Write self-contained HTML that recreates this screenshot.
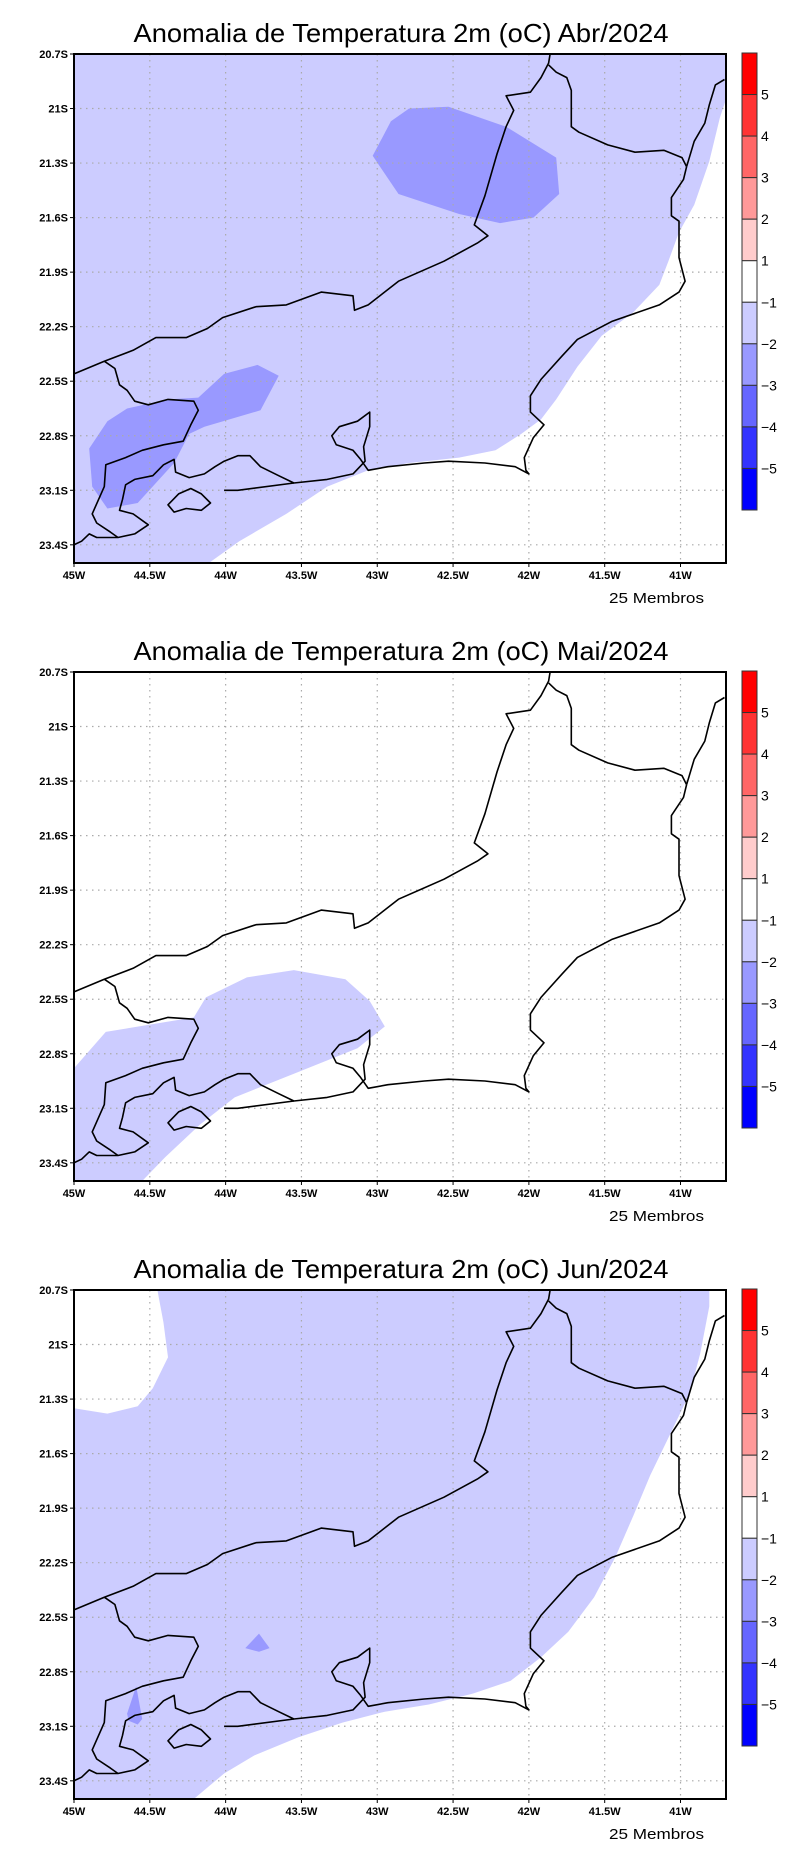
<!DOCTYPE html>
<html><head><meta charset="utf-8"><title>Anomalia de Temperatura 2m</title>
<style>
html,body{margin:0;padding:0;background:#fff;}
svg{display:block;font-family:"Liberation Sans","DejaVu Sans",sans-serif;}
</style></head>
<body>
<svg id="chart" xmlns="http://www.w3.org/2000/svg" width="800" height="1854" viewBox="0 0 800 1854"></svg>
<script>
// ---- data ----
const panelTitles = ["Anomalia de Temperatura 2m (oC) Abr/2024","Anomalia de Temperatura 2m (oC) Mai/2024","Anomalia de Temperatura 2m (oC) Jun/2024"];
const lonTicks = [-45,-44.5,-44,-43.5,-43,-42.5,-42,-41.5,-41];
const lonTickLabels = ["45W","44.5W","44W","43.5W","43W","42.5W","42W","41.5W","41W"];
const latTicks = [-20.7,-21,-21.3,-21.6,-21.9,-22.2,-22.5,-22.8,-23.1,-23.4];
const latTickLabels = ["20.7S","21S","21.3S","21.6S","21.9S","22.2S","22.5S","22.8S","23.1S","23.4S"];
const lonRange = [-45,-40.7];
const latRange = [-20.7,-23.5];
const cbarColors = ["#ff0000","#ff3333","#ff6666","#ff9999","#ffcccc","#ffffff","#ccccff","#9999ff","#6666ff","#3333ff","#0000ff"];
const cbarLabels = ["5","4","3","2","1","\u22121","\u22122","\u22123","\u22124","\u22125"];
const membersLabel = "25 Membros";

// Abr/2024 : white (> -1) area, and -2..-3 blobs (background -1..-2)
const abrBackground = "#ccccff";
const abrWhite = [[-44.11,-23.5],[-43.91,-23.38],[-43.60,-23.23],[-43.33,-23.08],[-43.06,-22.99],[-42.79,-22.95],[-42.46,-22.92],[-42.22,-22.88],[-42.05,-22.79],[-41.92,-22.71],[-41.82,-22.60],[-41.68,-22.42],[-41.52,-22.25],[-41.31,-22.12],[-41.14,-21.97],[-41.08,-21.84],[-41.01,-21.68],[-40.91,-21.53],[-40.81,-21.29],[-40.74,-21.05],[-40.70,-20.95],[-40.70,-23.5]];
const abrBlobNE = [[-42.79,-21.00],[-42.53,-20.99],[-42.15,-21.10],[-41.82,-21.27],[-41.80,-21.47],[-41.97,-21.60],[-42.19,-21.63],[-42.46,-21.58],[-42.86,-21.47],[-43.03,-21.26],[-42.91,-21.07]];
const abrBlobSW = [[-44.90,-22.87],[-44.78,-22.72],[-44.65,-22.65],[-44.38,-22.60],[-44.18,-22.59],[-44.01,-22.46],[-43.79,-22.41],[-43.65,-22.47],[-43.77,-22.66],[-44.14,-22.75],[-44.24,-22.79],[-44.34,-22.95],[-44.58,-23.17],[-44.78,-23.20],[-44.88,-23.08]];
// Mai/2024 : -1..-2 area (background white)
const maiBlue = [[-45.00,-22.88],[-44.79,-22.68],[-44.21,-22.60],[-44.13,-22.49],[-43.86,-22.38],[-43.55,-22.34],[-43.21,-22.39],[-43.05,-22.51],[-42.95,-22.65],[-43.13,-22.77],[-43.55,-22.91],[-43.94,-23.04],[-44.17,-23.19],[-44.40,-23.37],[-44.55,-23.5],[-45.00,-23.5]];
// Jun/2024 : white areas and small -2..-3 patches (background -1..-2)
const junWhiteNW = [[-45.00,-20.70],[-44.45,-20.70],[-44.41,-20.88],[-44.38,-21.07],[-44.48,-21.24],[-44.58,-21.34],[-44.78,-21.38],[-45.00,-21.35]];
const junWhiteSE = [[-40.81,-20.70],[-40.81,-20.79],[-40.87,-21.05],[-40.94,-21.27],[-41.09,-21.53],[-41.20,-21.72],[-41.31,-21.94],[-41.43,-22.17],[-41.57,-22.39],[-41.74,-22.58],[-41.92,-22.72],[-42.12,-22.85],[-42.37,-22.92],[-42.66,-22.98],[-42.95,-23.02],[-43.23,-23.08],[-43.52,-23.16],[-43.81,-23.26],[-44.01,-23.36],[-44.21,-23.5],[-40.70,-23.5],[-40.70,-20.70]];
const junPatchA = [[-43.87,-22.67],[-43.78,-22.59],[-43.71,-22.67],[-43.78,-22.69]];
const junPatchB = [[-44.59,-22.88],[-44.55,-23.06],[-44.58,-23.09],[-44.64,-23.07],[-44.65,-23.03]];

// Map outlines (lon, lat)
const borderMG = [[-45.00,-22.46],[-44.80,-22.39],[-44.61,-22.33],[-44.46,-22.26],[-44.26,-22.26],[-44.12,-22.21],[-44.02,-22.15],[-43.80,-22.09],[-43.60,-22.08],[-43.37,-22.01],[-43.16,-22.03],[-43.15,-22.11],[-43.06,-22.08],[-42.86,-21.95],[-42.56,-21.84],[-42.34,-21.74],[-42.27,-21.70],[-42.36,-21.64],[-42.29,-21.48],[-42.21,-21.25],[-42.15,-21.10],[-42.10,-21.01],[-42.15,-20.93],[-41.99,-20.91],[-41.92,-20.83],[-41.87,-20.75],[-41.86,-20.70]];
const borderES = [[-41.87,-20.76],[-41.82,-20.80],[-41.75,-20.83],[-41.72,-20.90],[-41.72,-21.10],[-41.67,-21.13],[-41.48,-21.20],[-41.30,-21.24],[-41.11,-21.23],[-40.99,-21.27],[-40.96,-21.32]];
const coastRJ = [[-40.96,-21.32],[-40.98,-21.39],[-41.06,-21.49],[-41.06,-21.59],[-41.01,-21.62],[-41.01,-21.82],[-40.97,-21.95],[-41.01,-22.01],[-41.14,-22.08],[-41.45,-22.17],[-41.68,-22.27],[-41.78,-22.36],[-41.92,-22.49],[-41.99,-22.58],[-41.99,-22.67],[-41.90,-22.74],[-41.97,-22.81],[-42.03,-22.92],[-42.02,-22.99],[-42.00,-23.01],[-42.09,-22.97],[-42.29,-22.95],[-42.53,-22.94],[-42.69,-22.95],[-42.93,-22.97],[-43.06,-22.99],[-43.11,-22.93],[-43.16,-22.88],[-43.27,-22.85],[-43.30,-22.80],[-43.25,-22.75],[-43.13,-22.72],[-43.05,-22.67],[-43.05,-22.75],[-43.09,-22.86],[-43.08,-22.94],[-43.16,-23.01],[-43.33,-23.04],[-43.55,-23.06],[-43.65,-23.02],[-43.77,-22.97],[-43.84,-22.91],[-43.92,-22.91],[-44.01,-22.94],[-44.07,-22.97],[-44.14,-23.01],[-44.24,-23.03],[-44.33,-23.00],[-44.34,-22.93],[-44.41,-22.96],[-44.48,-23.02],[-44.60,-23.04],[-44.66,-23.07],[-44.68,-23.15],[-44.70,-23.21],[-44.61,-23.23],[-44.51,-23.29],[-44.60,-23.34],[-44.71,-23.36],[-44.85,-23.36],[-44.90,-23.34],[-44.95,-23.38],[-45.00,-23.40]];
const borderSP = [[-44.80,-22.39],[-44.73,-22.43],[-44.70,-22.52],[-44.65,-22.55],[-44.60,-22.61],[-44.51,-22.63],[-44.38,-22.60],[-44.21,-22.61],[-44.18,-22.66],[-44.23,-22.74],[-44.28,-22.83],[-44.41,-22.85],[-44.55,-22.88],[-44.66,-22.92],[-44.79,-22.96],[-44.80,-23.08],[-44.88,-23.23],[-44.85,-23.28],[-44.76,-23.33],[-44.71,-23.36]];
const coastES = [[-40.96,-21.32],[-40.91,-21.18],[-40.84,-21.08],[-40.81,-20.98],[-40.77,-20.87],[-40.71,-20.84]];
const ilhaGrande = [[-44.38,-23.18],[-44.31,-23.12],[-44.23,-23.09],[-44.16,-23.12],[-44.10,-23.17],[-44.16,-23.21],[-44.26,-23.20],[-44.34,-23.22]];
const marambaia = [[-44.01,-23.10],[-43.92,-23.10],[-43.55,-23.06]];

// ---- layout ----
const NS="http://www.w3.org/2000/svg";
const svg=document.getElementById('chart');
const PX0=74, PX1=726, PY0=54, PY1=563, PANEL_DY=618;
function el(tag,attrs,parent){const e=document.createElementNS(NS,tag);for(const k in attrs)e.setAttribute(k,attrs[k]);(parent||svg).appendChild(e);return e;}
function xScale(lon){return PX0+(lon-lonRange[0])/(lonRange[1]-lonRange[0])*(PX1-PX0);}
function yScale(lat,off){return off+PY0+(lat-latRange[0])/(latRange[1]-latRange[0])*(PY1-PY0);}
function pts(arr,off){return arr.map(p=>xScale(p[0]).toFixed(1)+","+yScale(p[1],off).toFixed(1)).join(" ");}

const panels=[
 {bg:abrBackground, fills:[[abrWhite,"#ffffff","white-region"],[abrBlobNE,"#9999ff","blob-northeast"],[abrBlobSW,"#9999ff","blob-southwest"]]},
 {bg:"#ffffff", fills:[[maiBlue,"#ccccff","cool-region-southwest"]]},
 {bg:"#ccccff", fills:[[junWhiteNW,"#ffffff","white-region-northwest"],[junWhiteSE,"#ffffff","white-region-southeast"],[junPatchA,"#9999ff","patch-central"],[junPatchB,"#9999ff","patch-southwest"]]}
];

panels.forEach((p,i)=>{
  const off=i*PANEL_DY;
  const g=el('g',{});
  
  
  const t=el('text',{x:401,y:off+42,'font-size':26,'text-anchor':'middle',textLength:535,lengthAdjust:'spacingAndGlyphs',fill:'#000'},g);
  
  
  t.textContent=panelTitles[i];
  const bg=el('rect',{x:PX0,y:off+PY0,width:PX1-PX0,height:PY1-PY0,fill:p.bg},g);
  
  
  p.fills.forEach(f=>{
    const poly=el('polygon',{points:pts(f[0],off),fill:f[1]},g);
    
    
  });
  // grid
  lonTicks.forEach((lon,j)=>{
    const x=xScale(lon);
    if(j>0){const gl=el('line',{x1:x,x2:x,y1:off+PY0,y2:off+PY1,stroke:'#aaa','stroke-width':1.2,'stroke-dasharray':'1.5,4.5'},g);
      
      }
    el('line',{x1:x,x2:x,y1:off+PY1,y2:off+PY1+4,stroke:'#000','stroke-width':1},g);
    const lt=el('text',{x:x,y:off+PY1+16,'font-size':11,'font-weight':'bold','text-anchor':'middle',fill:'#000'},g);
    
    
    lt.textContent=lonTickLabels[j];
  });
  latTicks.forEach((lat,j)=>{
    const y=yScale(lat,off);
    if(j>0){const gl=el('line',{x1:PX0,x2:PX1,y1:y,y2:y,stroke:'#aaa','stroke-width':1.2,'stroke-dasharray':'1.5,4.5'},g);
      
      }
    el('line',{x1:PX0-4,x2:PX0,y1:y,y2:y,stroke:'#000','stroke-width':1},g);
    const lt=el('text',{x:PX0-6,y:y+4,'font-size':11,'font-weight':'bold','text-anchor':'end',fill:'#000'},g);
    
    
    lt.textContent=latTickLabels[j];
  });
  // outlines
  const clip=el('clipPath',{id:'clip'+i},g);
  el('rect',{x:PX0,y:off+PY0,width:PX1-PX0,height:PY1-PY0},clip);
  const og=el('g',{'clip-path':'url(#clip'+i+')',fill:'none',stroke:'#000','stroke-width':1.6,'stroke-linejoin':'round'},g);
  
  
  [[borderMG,'state-border-mg'],[borderES,'state-border-es'],[coastRJ,'coastline'],[borderSP,'state-border-sp'],[coastES,'coastline-es'],[marambaia,'restinga-marambaia']].forEach(o=>{
    const pl=el('polyline',{points:pts(o[0],off)},og);
    
    
  });
  const ig=el('polygon',{points:pts(ilhaGrande,off)},og);
  
  
  // frame
  const fr=el('rect',{x:PX0,y:off+PY0,width:PX1-PX0,height:PY1-PY0,fill:'none',stroke:'#000','stroke-width':2},g);
  
  
  // colorbar
  const cb=el('g',{},g);
  
  
  const cbTop=off+53, cbBot=off+510, segH=(cbBot-cbTop)/cbarColors.length;
  cbarColors.forEach((c,k)=>{
    const r=el('rect',{x:742,y:cbTop+k*segH,width:15,height:segH,fill:c,stroke:'#333','stroke-width':1},cb);
    
    
  });
  cbarLabels.forEach((l,k)=>{
    const ct=el('text',{x:761,y:cbTop+(k+1)*segH+5,'font-size':14,fill:'#000'},cb);
    
    
    ct.textContent=l;
  });
  const mt=el('text',{x:609,y:off+603,'font-size':15,textLength:95,lengthAdjust:'spacingAndGlyphs',fill:'#000'},g);
  
  
  mt.textContent=membersLabel;
});
</script>
</body></html>
